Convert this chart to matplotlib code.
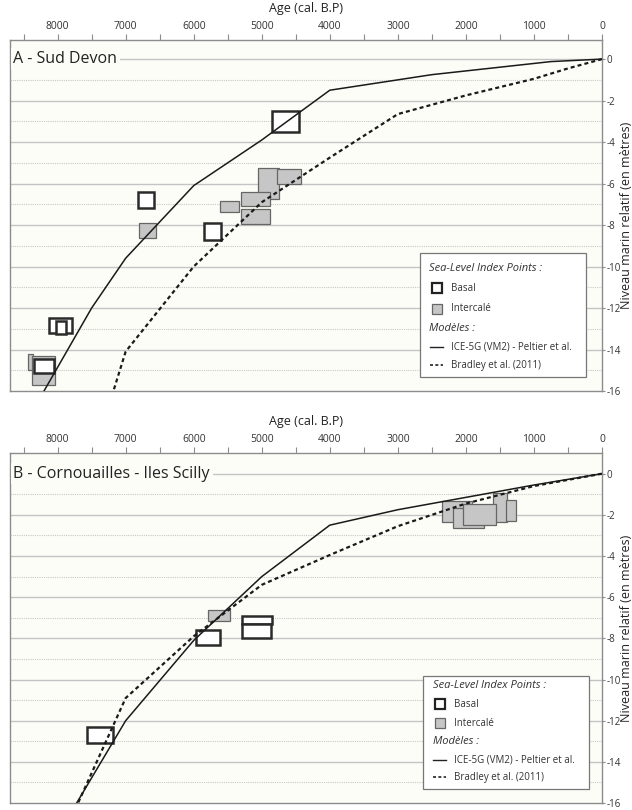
import matplotlib
matplotlib.use("Agg")
import matplotlib.pyplot as plt
from matplotlib.patches import Rectangle

plt.rcParams['font.family'] = ['Open Sans', 'DejaVu Sans']
plt.rcParams['axes.unicode_minus'] = False

# --- Modèles, panneau A (Sud Devon) ---
devon_ice_age = [0, 750, 2500, 3000, 4000, 5000, 6000, 7000, 7500, 8200]
devon_ice_rsl = [0, -0.12, -0.75, -1.0, -1.5, -3.9, -6.1, -9.6, -12.0, -16.0]
devon_brad_age = [0, 500, 1000, 2000, 3000, 4000, 5000, 6000, 7000, 7180]
devon_brad_rsl = [0, -0.45, -0.95, -1.75, -2.65, -4.75, -6.9, -10.0, -14.1, -16.0]

# SLIPs Sud Devon : age, err age, niveau, err niveau
devon_basal_age = [4650, 6700, 5730, 8200, 7960, 7950]
devon_basal_aerr = [200, 115, 125, 145, 170, 80]
devon_basal_rsl = [-3.0, -6.8, -8.3, -14.8, -12.85, -12.95]
devon_basal_rerr = [0.5, 0.37, 0.4, 0.33, 0.35, 0.3]

devon_inter_age = [4900, 4600, 5090, 5480, 5090, 6680, 8400, 8210]
devon_inter_aerr = [160, 175, 210, 140, 210, 120, 35, 170]
devon_inter_rsl = [-6.0, -5.65, -6.75, -7.1, -7.6, -8.25, -14.6, -15.0]
devon_inter_rerr = [0.75, 0.35, 0.35, 0.28, 0.37, 0.37, 0.37, 0.7]

# --- Modèles, panneau B (Cornouailles - Iles Scilly) ---
corn_ice_age = [0, 1000, 2000, 3000, 4000, 5000, 6000, 7000, 7720]
corn_ice_rsl = [0, -0.55, -1.15, -1.75, -2.5, -5.0, -8.1, -12.0, -16.0]
corn_brad_age = [0, 1000, 2000, 3000, 4000, 5000, 6000, 7000, 7700]
corn_brad_rsl = [0, -0.6, -1.45, -2.55, -3.95, -5.4, -7.9, -10.9, -16.0]

corn_basal_age = [5790, 5070, 5080, 7380]
corn_basal_aerr = [170, 220, 210, 190]
corn_basal_rsl = [-7.95, -7.1, -7.65, -12.7]
corn_basal_rerr = [0.35, 0.2, 0.35, 0.4]

corn_inter_age = [5630, 2130, 1960, 1500, 1340, 1800]
corn_inter_aerr = [160, 220, 230, 100, 75, 240]
corn_inter_rsl = [-6.9, -1.85, -2.15, -1.66, -1.8, -1.97]
corn_inter_rerr = [0.27, 0.5, 0.5, 0.7, 0.5, 0.52]

x_ticks = [8000, 7000, 6000, 5000, 4000, 3000, 2000, 1000, 0]
y_ticks = [0, -2, -4, -6, -8, -10, -12, -14, -16]

BG = '#fdfdf8'
SPINE = '#8c8c8c'


def draw_panel(ax, title, ice, brad, basal, inter, ytop, leg_box, leg_rows):
    ax.set_facecolor(BG)
    ax.set_xlim(8700, 0)
    ax.set_ylim(-16, ytop)

    # grille : pleine aux valeurs paires, pointillée aux impaires
    for v in range(0, -16, -1):
        if v % 2 == 0:
            ax.axhline(v, color='#c4c4c4', lw=1.0, zorder=0.5)
        else:
            ax.axhline(v, color='#c8c8c8', lw=0.8, ls=(0, (1, 1)), zorder=0.5)

    for a, ae, r, re in zip(*inter):
        ax.add_patch(Rectangle((a - ae, r - re), 2 * ae, 2 * re, facecolor='#c6c6c6',
                               edgecolor='#666666', lw=0.9, zorder=2))
    for a, ae, r, re in zip(*basal):
        ax.add_patch(Rectangle((a - ae, r - re), 2 * ae, 2 * re, facecolor='white',
                               edgecolor='#2a2a2a', lw=1.8, zorder=3))

    ax.plot(ice[0], ice[1], color='#1a1a1a', lw=1.1, zorder=4)
    ax.plot(brad[0], brad[1], color='#1a1a1a', lw=1.6, ls=(0, (1.8, 1.4)), zorder=4)

    ax.text(8650, 0, title, fontsize=11.5, va='center', ha='left', color='#222222',
            zorder=5, bbox=dict(facecolor=BG, edgecolor='none', pad=2))

    ax.xaxis.tick_top()
    ax.xaxis.set_label_position('top')
    ax.set_xticks(x_ticks)
    ax.set_xticks(range(8500, 0, -1000), minor=True)
    ax.set_xlabel('Age (cal. B.P)', fontsize=9, labelpad=6, color='#222222')
    ax.yaxis.tick_right()
    ax.yaxis.set_label_position('right')
    ax.set_yticks(y_ticks)
    ax.set_ylabel('Niveau marin relatif (en mètres)', fontsize=9, color='#222222',
                  va='center')
    ax.yaxis.set_label_coords(1.041, 0.5)
    ax.tick_params(which='both', direction='out', length=4, width=0.8, color=SPINE,
                   labelsize=7.5, labelcolor='#333333', pad=2)
    ax.tick_params(axis='y', labelsize=7, length=2.5, pad=0.5)
    for s in ax.spines.values():
        s.set_color(SPINE)
        s.set_linewidth(1.0)

    # légende
    x0, y0, x1, y1 = leg_box
    ax.add_patch(Rectangle((x0, y0), x1 - x0, y1 - y0, transform=ax.transAxes,
                           facecolor='white', edgecolor='#777777', lw=0.9, zorder=6))
    hx = x0 + 0.028
    tx = x0 + 0.052
    r = leg_rows
    kw = dict(transform=ax.transAxes, zorder=7, va='center', color='#333333')
    ax.text(x0 + 0.016, r[0], 'Sea-Level Index Points :', fontsize=8, style='italic', **kw)
    ax.plot([hx], [r[1]], marker='s', ms=6.5, mfc='white', mec='#222222', mew=1.6,
            transform=ax.transAxes, zorder=7)
    ax.text(tx, r[1], 'Basal', fontsize=7, **kw)
    ax.plot([hx], [r[2]], marker='s', ms=6.5, mfc='#c6c6c6', mec='#666666', mew=0.9,
            transform=ax.transAxes, zorder=7)
    ax.text(tx, r[2], 'Intercalé', fontsize=7, **kw)
    ax.text(x0 + 0.016, r[3], 'Modèles :', fontsize=8, style='italic', **kw)
    ax.plot([hx - 0.011, hx + 0.011], [r[4], r[4]], color='#222222', lw=1.0,
            transform=ax.transAxes, zorder=7)
    ax.text(tx, r[4], 'ICE-5G (VM2) - Peltier et al.', fontsize=7, **kw)
    ax.plot([hx - 0.011, hx + 0.011], [r[5], r[5]], color='#222222', lw=1.2,
            ls=(0, (1.8, 1.4)), transform=ax.transAxes, zorder=7)
    ax.text(tx, r[5], 'Bradley et al. (2011)', fontsize=7, **kw)


fig = plt.figure(figsize=(6.32, 8.10), dpi=100)
fig.patch.set_facecolor('white')

ax_a = fig.add_axes([0.0158, 0.5173, 0.9367, 0.4333])
draw_panel(ax_a, 'A - Sud Devon',
           (devon_ice_age, devon_ice_rsl), (devon_brad_age, devon_brad_rsl),
           (devon_basal_age, devon_basal_aerr, devon_basal_rsl, devon_basal_rerr),
           (devon_inter_age, devon_inter_aerr, devon_inter_rsl, devon_inter_rerr),
           0.92, (0.6926, 0.040, 0.973, 0.393),
           [0.350, 0.293, 0.234, 0.177, 0.125, 0.074])

ax_b = fig.add_axes([0.0158, 0.0086, 0.9367, 0.4320])
draw_panel(ax_b, 'B - Cornouailles - Iles Scilly',
           (corn_ice_age, corn_ice_rsl), (corn_brad_age, corn_brad_rsl),
           (corn_basal_age, corn_basal_aerr, corn_basal_rsl, corn_basal_rerr),
           (corn_inter_age, corn_inter_aerr, corn_inter_rsl, corn_inter_rerr),
           1.0, (0.698, 0.040, 0.978, 0.362),
           [0.336, 0.282, 0.228, 0.177, 0.123, 0.074])

fig.savefig('out.png', dpi=100, facecolor=fig.get_facecolor())
